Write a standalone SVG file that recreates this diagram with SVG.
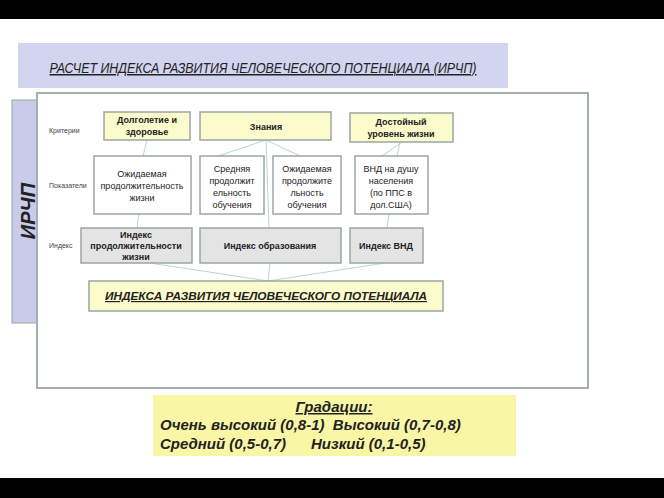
<svg xmlns="http://www.w3.org/2000/svg" width="664" height="498" viewBox="0 0 664 498">
<style>
.t{font-family:"Liberation Sans",Arial,sans-serif;fill:#222}
.b{font-weight:bold}
.c{text-anchor:middle}
.crit{fill:#fbfbcb;stroke:#9aa7a4;stroke-width:1.5}
.ind{fill:#fff;stroke:#9aa7a4;stroke-width:1.5}
.idx{fill:#e4e4e4;stroke:#9aa7a4;stroke-width:1.5}
.lab{font-size:7px;fill:#444}
.n{font-size:9px}
.conn line{stroke:#b8d6d4;stroke-width:1}
</style>
<rect width="664" height="498" fill="#fff"/>
<rect x="0" y="0" width="664" height="19" fill="#000"/>
<rect x="0" y="478" width="664" height="20" fill="#000"/>
<rect x="18" y="43" width="490" height="45" fill="#d2d4f0"/>
<text class="t c" x="263" y="73" font-size="15" font-style="italic" text-decoration="underline" fill="#111" textLength="427" lengthAdjust="spacingAndGlyphs">РАСЧЕТ ИНДЕКСА РАЗВИТИЯ ЧЕЛОВЕЧЕСКОГО ПОТЕНЦИАЛА (ИРЧП)</text>
<g id="side">
<rect x="12" y="100" width="26" height="223" fill="#c9cbea" stroke="#9aa7a4" stroke-width="1"/>
<text class="t b c" transform="translate(35,211) rotate(-90)" font-size="20" font-style="italic" fill="#000">ИРЧП</text>
</g>
<rect x="37" y="93" width="551" height="295" fill="#fff" stroke="#a4b0ae" stroke-width="2"/>
<text class="t lab" x="49" y="133">Критерии</text>
<text class="t lab" x="49" y="188">Показатели</text>
<text class="t lab" x="49" y="248">Индекс</text>
<g class="conn" id="connectors">
<line x1="147" y1="140" x2="143" y2="156"/>
<line x1="266" y1="140" x2="218" y2="156"/>
<line x1="266" y1="140" x2="300" y2="156"/>
<line x1="266" y1="140" x2="269" y2="228"/>
<line x1="402" y1="142" x2="382" y2="156"/>
<line x1="400" y1="142" x2="397" y2="156"/>
<line x1="139" y1="214" x2="137" y2="228"/>
<line x1="389" y1="214" x2="387" y2="228"/>
<line x1="150" y1="263" x2="268" y2="281"/>
<line x1="270" y1="263" x2="268" y2="281"/>
<line x1="385" y1="263" x2="268" y2="281"/>
</g>
<g id="n1"><rect class="crit" x="104" y="112" width="86" height="28"/>
<text class="t b c n" x="147" y="123">Долголетие и</text><text class="t b c n" x="147" y="135">здоровье</text></g>
<g id="n2"><rect class="crit" x="200" y="112" width="131" height="28"/>
<text class="t b c n" x="266" y="130">Знания</text></g>
<g id="n3"><rect class="crit" x="350" y="113" width="103" height="29"/>
<text class="t b c n" x="401" y="125">Достойный</text><text class="t b c n" x="401" y="137">уровень жизни</text></g>
<g id="n4"><rect class="ind" x="94" y="156" width="97" height="58"/>
<text class="t c n" x="142" y="177">Ожидаемая</text><text class="t c n" x="142" y="189">продолжительность</text><text class="t c n" x="142" y="201">жизни</text></g>
<g id="n5"><rect class="ind" x="200" y="156" width="64" height="58"/>
<text class="t c n" x="232" y="172">Средняя</text><text class="t c n" x="232" y="184">продолжит</text><text class="t c n" x="232" y="196">ельность</text><text class="t c n" x="232" y="208">обучения</text></g>
<g id="n6"><rect class="ind" x="273" y="156" width="68" height="58"/>
<text class="t c n" x="307" y="172">Ожидаемая</text><text class="t c n" x="307" y="184">продолжите</text><text class="t c n" x="307" y="196">льность</text><text class="t c n" x="307" y="208">обучения</text></g>
<g id="n7"><rect class="ind" x="355" y="156" width="73" height="58"/>
<text class="t c n" x="391" y="172">ВНД на душу</text><text class="t c n" x="391" y="184">населения</text><text class="t c n" x="391" y="196">(по ППС в</text><text class="t c n" x="391" y="208">дол.США)</text></g>
<g id="n8"><rect class="idx" x="81" y="228" width="111" height="35"/>
<text class="t b c n" x="136" y="238">Индекс</text><text class="t b c n" x="136" y="249">продолжительности</text><text class="t b c n" x="136" y="260">жизни</text></g>
<g id="n9"><rect class="idx" x="200" y="228" width="141" height="35"/>
<text class="t b c n" x="270" y="249">Индекс образования</text></g>
<g id="n10"><rect class="idx" x="350" y="228" width="73" height="35"/>
<text class="t b c n" x="386" y="249">Индекс ВНД</text></g>
<g id="n11"><rect x="89" y="281" width="354" height="30" fill="#fbfbcb" stroke="#9aa7a4" stroke-width="1.5"/>
<text class="t b c" x="266" y="300" font-size="11.8" font-style="italic" text-decoration="underline">ИНДЕКСА РАЗВИТИЯ ЧЕЛОВЕЧЕСКОГО ПОТЕНЦИАЛА</text></g>
<g id="grad"><rect x="153" y="395" width="363" height="61" fill="#f9f7a6"/>
<text class="t b c" x="334" y="412" font-size="15" font-style="italic" text-decoration="underline">Градации:</text>
<text class="t b" x="160" y="430" font-size="15" font-style="italic" xml:space="preserve">Очень высокий (0,8-1)  Высокий (0,7-0,8)</text>
<text class="t b" x="160" y="449" font-size="15" font-style="italic" xml:space="preserve">Средний (0,5-0,7)      Низкий (0,1-0,5)</text></g>
</svg>
